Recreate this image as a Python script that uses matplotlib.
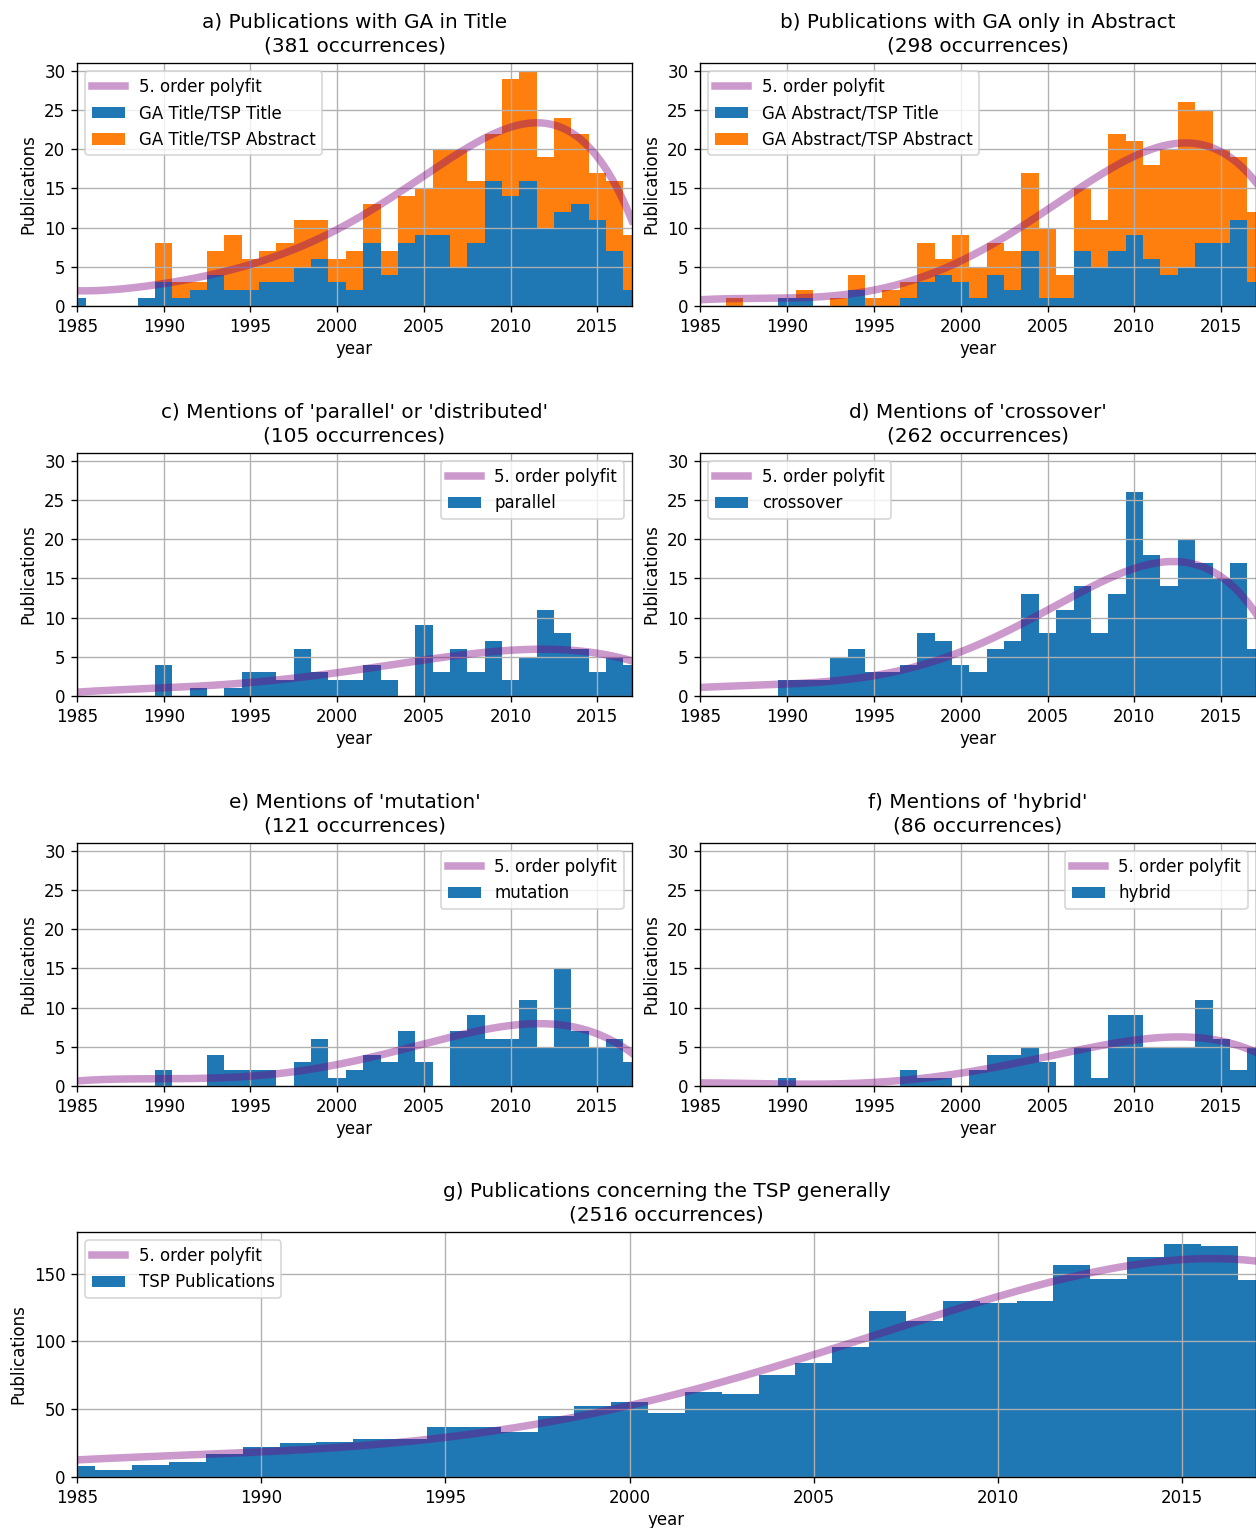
import numpy as np
import matplotlib
matplotlib.use("Agg")
import matplotlib.pyplot as plt

years = list(range(1985, 2018))

# ---- histogram counts per year ----
# a) GA in Title
a_title = [1,0,0,0,1,3,1,2,4,2,2,3,3,5,6,3,2,8,4,8,9,9,5,8,16,14,16,10,12,13,11,7,2]
a_total = [1,0,0,0,1,8,3,3,7,9,6,7,8,11,11,6,7,13,7,14,15,20,20,16,22,29,30,19,24,22,17,16,9]
# b) GA only in Abstract
b_title = [0,0,0,0,0,1,1,0,0,2,0,0,1,3,4,3,1,4,2,7,1,1,7,5,7,9,6,4,5,8,8,11,3]
b_total = [0,0,1,0,0,1,2,0,1,4,1,2,3,8,6,9,5,8,7,17,10,4,15,11,22,21,18,20,26,25,20,19,12]
# c) parallel
c_vals = [0,0,0,0,0,4,0,1,0,1,3,3,2,6,3,2,2,4,2,0,9,3,6,3,7,2,5,11,8,6,3,5,4]
# d) crossover
d_vals = [0,0,0,0,0,2,2,2,5,6,3,3,4,8,7,4,3,6,7,13,8,11,14,8,13,26,18,14,20,17,15,17,6]
# e) mutation
e_vals = [0,0,0,0,0,2,0,0,4,2,2,2,0,3,6,1,2,4,3,7,3,0,7,9,6,6,11,5,15,7,5,6,3]
# f) hybrid
f_vals = [0,0,0,0,0,1,0,0,0,0,0,0,2,1,1,0,2,4,4,5,3,0,5,1,9,9,5,5,5,11,6,2,5]
# g) TSP generally
g_vals = [8,5,9,11,17,22,25,26,28,28,37,37,33,45,52,55,47,63,61,75,84,96,122,115,130,128,130,156,146,162,172,170,145]

# ---- polyfit curve values ----
a_fit_x = [1985, 1990, 1992.5, 1995, 1997.5, 2000, 2002.5, 2005, 2007.5, 2010, 2011.2, 2012.5, 2014, 2015, 2016, 2017]
a_fit_y = [1.9, 3.1, 3.8, 5.0, 7.2, 9.9, 13.1, 16.7, 20.1, 22.7, 23.4, 22.7, 21.2, 19.5, 16.1, 10.4]
b_fit_x = [1985, 1990, 1992.5, 1995, 1997.5, 2000, 2002.5, 2005, 2007.5, 2010, 2012, 2013, 2014, 2015, 2016, 2017]
b_fit_y = [0.8, 1.0, 1.2, 2.2, 3.4, 5.7, 8.7, 12.3, 16.1, 19.1, 20.5, 20.8, 20.5, 19.7, 18.2, 15.7]
c_fit_x = [1985, 1990, 1995, 2000, 2005, 2008, 2010, 2012, 2013, 2014, 2015, 2016, 2017]
c_fit_y = [0.5, 1.0, 1.8, 2.9, 4.6, 5.5, 5.8, 6.0, 5.9, 5.7, 5.5, 5.0, 4.5]
d_fit_x = [1985, 1990, 1992.5, 1995, 1997.5, 2000, 2002.5, 2005, 2007.5, 2010, 2012, 2013, 2014, 2015, 2016, 2017]
d_fit_y = [1.1, 1.5, 1.9, 2.6, 3.8, 5.7, 7.9, 11.0, 14.0, 16.3, 17.1, 17.0, 16.3, 15.2, 13.5, 10.4]
e_fit_x = [1985, 1990, 1995, 2000, 2002.5, 2005, 2007.5, 2010, 2012, 2013, 2014, 2015, 2016, 2017]
e_fit_y = [0.65, 0.9, 1.3, 2.7, 4.0, 5.3, 6.7, 7.8, 8.0, 7.8, 7.3, 6.5, 5.7, 4.2]
f_fit_x = [1985, 1990, 1992.5, 1995, 1997.5, 2000, 2002.5, 2005, 2007.5, 2010, 2012, 2013, 2014, 2015, 2016, 2017]
f_fit_y = [0.4, 0.25, 0.25, 0.5, 0.8, 1.7, 2.7, 3.7, 4.8, 5.9, 6.3, 6.3, 6.1, 5.7, 5.0, 4.4]
g_fit_x = [1985, 1990, 1995, 1997.5, 2000, 2002.5, 2005, 2007.5, 2010, 2012.5, 2014, 2015, 2016, 2017]
g_fit_y = [12.6, 18.5, 29.6, 38.3, 53, 70.4, 90, 112, 133, 150, 158, 160.5, 161, 159]

BLUE = "#1f77b4"
ORANGE = "#ff7f0e"

W, H = 1256, 1528
fig = plt.figure(figsize=(W / 120, H / 120), dpi=120)


def rect(x0, x1, ytop, ybot):
    return [x0 / W, (H - ybot) / H, (x1 - x0) / W, (ybot - ytop) / H]


edges = np.arange(1984.5, 2018.5, 1.0)
xdense = np.linspace(1985, 2017, 400)


def add_fit(ax, fx, fy):
    p = np.polyfit(fx, fy, 5)
    ax.plot(xdense, np.polyval(p, xdense), color="purple", alpha=0.4, lw=4.5,
            label="5. order polyfit")


def style(ax, title, small=True):
    ax.set_title(title, fontsize=12, pad=7, linespacing=1.3)
    ax.set_xlim(1985, 2017)
    if small:
        ax.set_ylim(0, 31)
        ax.set_yticks([0, 5, 10, 15, 20, 25, 30])
    ax.set_xlabel("year", labelpad=2.5)
    ax.set_ylabel("Publications")
    ax.grid(True)


def panel_stacked(pos, title, t_vals, tot_vals, fx, fy, lab1, lab2):
    ax = fig.add_axes(pos)
    add_fit(ax, fx, fy)
    abs_vals = [t - b for t, b in zip(tot_vals, t_vals)]
    ax.hist([years, years], bins=edges, weights=[t_vals, abs_vals], stacked=True,
            color=[BLUE, ORANGE], label=[lab1, lab2])
    style(ax, title)
    ax.legend(loc="upper left", fontsize=10)
    return ax


def panel_single(pos, title, vals, fx, fy, lab, loc, small=True):
    ax = fig.add_axes(pos)
    add_fit(ax, fx, fy)
    ax.hist(years, bins=edges, weights=vals, color=BLUE, label=lab)
    style(ax, title, small=small)
    ax.legend(loc=loc, fontsize=10)
    return ax


panel_stacked(rect(77, 632, 63, 306), "a) Publications with GA in Title\n(381 occurrences)",
              a_title, a_total, a_fit_x, a_fit_y, "GA Title/TSP Title", "GA Title/TSP Abstract")
panel_stacked(rect(700, 1256, 63, 306), "b) Publications with GA only in Abstract\n(298 occurrences)",
              b_title, b_total, b_fit_x, b_fit_y, "GA Abstract/TSP Title", "GA Abstract/TSP Abstract")
panel_single(rect(77, 632, 453, 696), "c) Mentions of 'parallel' or 'distributed'\n(105 occurrences)",
             c_vals, c_fit_x, c_fit_y, "parallel", "upper right")
panel_single(rect(700, 1256, 453, 696), "d) Mentions of 'crossover'\n(262 occurrences)",
             d_vals, d_fit_x, d_fit_y, "crossover", "upper left")
panel_single(rect(77, 632, 843, 1086), "e) Mentions of 'mutation'\n(121 occurrences)",
             e_vals, e_fit_x, e_fit_y, "mutation", "upper right")
panel_single(rect(700, 1256, 843, 1086), "f) Mentions of 'hybrid'\n(86 occurrences)",
             f_vals, f_fit_x, f_fit_y, "hybrid", "upper right")
axg = panel_single(rect(77, 1256, 1232, 1477), "g) Publications concerning the TSP generally\n(2516 occurrences)",
                   g_vals, g_fit_x, g_fit_y, "TSP Publications", "upper left", small=False)
axg.set_ylim(0, 180.6)

fig.savefig("out.png", dpi=120)
